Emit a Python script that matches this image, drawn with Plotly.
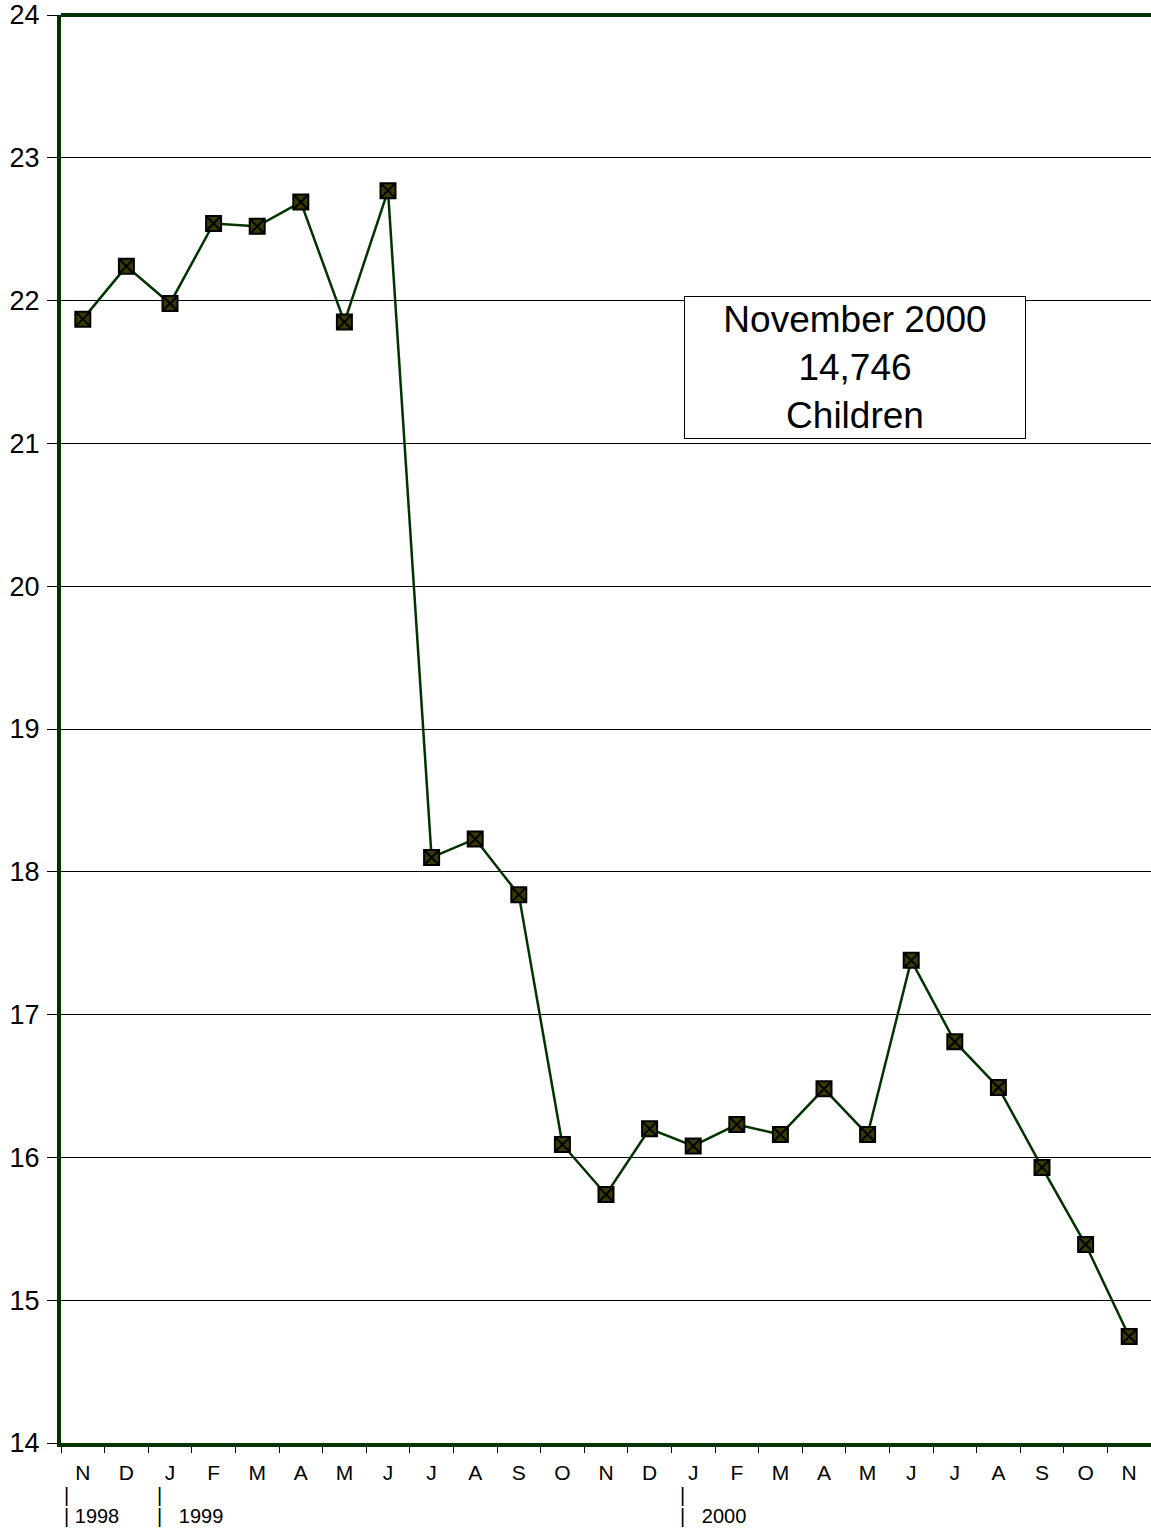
import plotly.graph_objects as go

months = ["N", "D", "J", "F", "M", "A", "M", "J", "J", "A", "S", "O", "N",
          "D", "J", "F", "M", "A", "M", "J", "J", "A", "S", "O", "N"]
values = [21.87, 22.24, 21.98, 22.54, 22.52, 22.69, 21.85, 22.77, 18.10, 18.23,
          17.84, 16.09, 15.74, 16.20, 16.08, 16.23, 16.16, 16.48, 16.16, 17.38,
          16.81, 16.49, 15.93, 15.39, 14.746]
year_labels = ["1998", "1999", "2000"]
year_start_idx = [0, 2, 14]
y_ticks = list(range(14, 25))

xs = list(range(len(months)))
FONT = "Liberation Sans, Arial, sans-serif"
GREEN = "#003300"

fig = go.Figure()
fig.add_trace(go.Scatter(
    x=xs, y=values, mode="lines+markers",
    line=dict(color=GREEN, width=2.5),
    marker=dict(symbol="square-x", size=15, color="#3a3a00",
                line=dict(color="black", width=2)),
    showlegend=False, hoverinfo="skip",
))

fig.update_layout(
    width=1151, height=1531,
    margin=dict(l=61, r=0, t=15, b=88),
    paper_bgcolor="white", plot_bgcolor="white",
    font=dict(family=FONT, color="black"),
)
fig.update_xaxes(
    range=[-0.5, len(months) - 0.5],
    tickmode="array", tickvals=xs, ticktext=months,
    ticks="", ticklabelstandoff=8,
    tickfont=dict(size=21, family=FONT),
    showgrid=False, zeroline=False,
    showline=True, linecolor=GREEN, linewidth=4,
    minor=dict(ticks="outside", tickmode="array",
               tickvals=[i - 0.5 for i in range(len(months) + 1)],
               ticklen=6, tickcolor="black", tickwidth=1, showgrid=False),
)
fig.update_yaxes(
    range=[14, 24], tickmode="array", tickvals=y_ticks,
    ticks="outside", ticklen=10, tickcolor="black", tickwidth=1,
    ticklabelstandoff=2,
    tickfont=dict(size=27, family=FONT),
    showgrid=True, gridcolor="black", gridwidth=1,
    zeroline=False,
    showline=True, linecolor=GREEN, linewidth=4,
)

# top frame line
fig.add_shape(type="line", xref="paper", yref="paper", x0=0, x1=1, y0=1, y1=1,
              line=dict(color=GREEN, width=4))

# year labels below axis
shifts = [1, 7, 7]
pads = ["\u00a0", "\u00a0\u00a0\u00a0", "\u00a0\u00a0\u00a0"]
for yl, idx, sh, pad in zip(year_labels, year_start_idx, shifts, pads):
    fig.add_annotation(x=idx - 0.5, xref="x", y=-0.0364, yref="paper",
                       text="|", showarrow=False, xanchor="left", yanchor="middle",
                       xshift=sh, font=dict(size=20, family=FONT))
    fig.add_annotation(x=idx - 0.5, xref="x", y=-0.0511, yref="paper",
                       text="|" + pad + yl, showarrow=False, xanchor="left",
                       yanchor="middle", xshift=sh, font=dict(size=20, family=FONT))

# callout box
fig.add_annotation(
    x=17.71, y=21.53, xref="x", yref="y",
    text="November 2000<br>14,746<br>Children",
    showarrow=False, xanchor="center", yanchor="middle",
    font=dict(size=37, family=FONT, color="black"),
    bgcolor="white", bordercolor="black", borderwidth=1,
    width=338, height=139, align="center",
)

fig.write_html("out.html", config={"displayModeBar": False},
               post_script="document.body.style.margin='0';document.body.style.overflow='hidden';")
